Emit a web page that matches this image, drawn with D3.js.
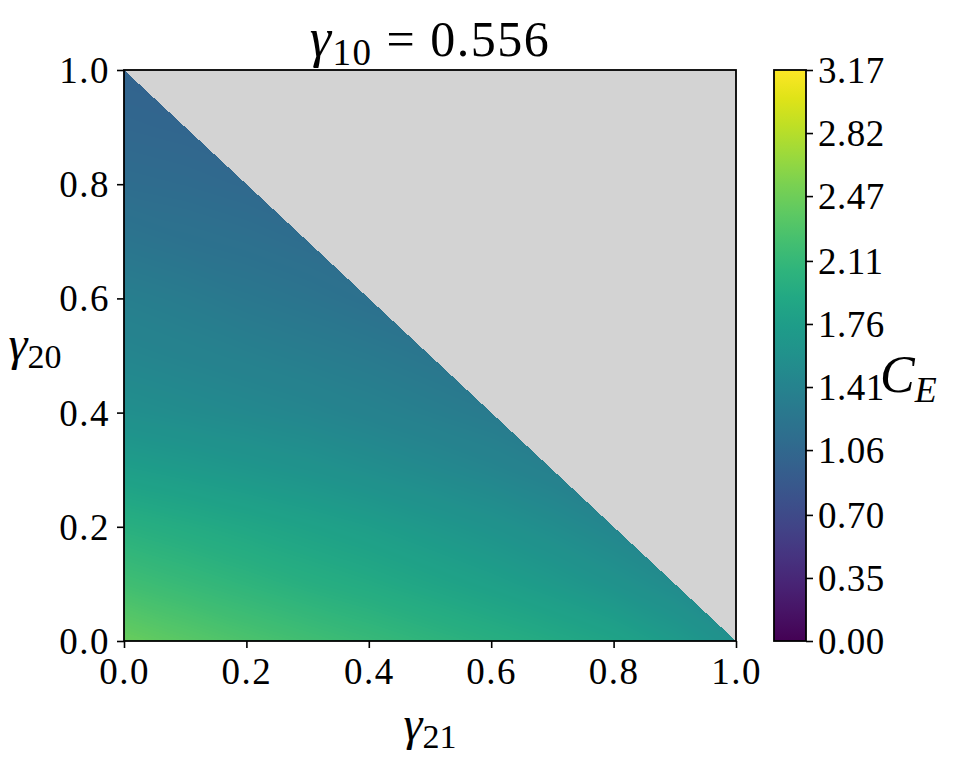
<!DOCTYPE html>
<html>
<head>
<meta charset="utf-8">
<script src="https://cdn.jsdelivr.net/npm/d3@7"></script>
<style>
body { margin: 0; background: #fff; }
text { font-family: "Liberation Serif", "DejaVu Serif", serif; fill: #000; }
</style>
</head>
<body>
<svg id="svg0" width="955" height="764"></svg>
<script>
var svg0 = d3.select('#svg0');

// grid step of the sampled field (gamma21 along columns, gamma20 along rows)
var grid_step = 0.1;
// C_E, row j = gamma20 = j*0.1, column i = gamma21 = i*0.1 (only gamma21+gamma20<=1)
var row_00 = [2.44, 2.35, 2.27, 2.20, 2.13, 2.06, 1.99, 1.92, 1.84, 1.72, 1.58];
var row_01 = [2.20, 2.13, 2.06, 1.99, 1.93, 1.86, 1.79, 1.71, 1.62, 1.52];
var row_02 = [2.00, 1.94, 1.88, 1.82, 1.76, 1.69, 1.62, 1.54, 1.45];
var row_03 = [1.77, 1.72, 1.67, 1.62, 1.56, 1.50, 1.44, 1.37];
var row_04 = [1.57, 1.53, 1.49, 1.45, 1.40, 1.35, 1.30];
var row_05 = [1.45, 1.41, 1.37, 1.33, 1.29, 1.24];
var row_06 = [1.35, 1.31, 1.26, 1.22, 1.17];
var row_07 = [1.23, 1.19, 1.16, 1.12];
var row_08 = [1.12, 1.10, 1.07];
var row_09 = [1.05, 1.03];
var row_10 = [1.00];
var ce_rows = [row_00, row_01, row_02, row_03, row_04, row_05, row_06, row_07, row_08, row_09, row_10];

var x_ticks = [0.0, 0.2, 0.4, 0.6, 0.8, 1.0];
var y_ticks = [0.0, 0.2, 0.4, 0.6, 0.8, 1.0];
var cbar_ticks = [0.00, 0.35, 0.70, 1.06, 1.41, 1.76, 2.11, 2.47, 2.82, 3.17];
var c_min = 0, c_max = 3.17;

var plot_left = 124, plot_right = 736, plot_top = 70, plot_bottom = 641;
var cb_left = 774, cb_right = 806;

var x = d3.scaleLinear().domain([0, 1]).range([plot_left, plot_right]);
var y = d3.scaleLinear().domain([0, 1]).range([plot_bottom, plot_top]);
var color = d3.scaleSequential(d3.interpolateViridis).domain([c_min, c_max]);
var w = plot_right-plot_left, h = plot_bottom-plot_top;

// grey background for the masked region
svg0.append('rect').attr('x', plot_left).attr('y', plot_top).attr('width', w).attr('height', h).attr('fill', '#d3d3d3');

// value at a point, linear inside the triangles of the sample grid
function ce_at(gx, gy) {
	var u = gx/grid_step, v = gy/grid_step;
	var i = Math.min(Math.floor(u), 9), j = Math.min(Math.floor(v), 9);
	var fu = u-i, fv = v-j;
	var z = (a, b) => { var r = ce_rows[b]; if(!r) return null; var val = r[a]; return val === undefined ? null : val; };
	var z00 = z(i, j), z10 = z(i+1, j), z01 = z(i, j+1), z11 = z(i+1, j+1);
	if(fu+fv <= 1) {
		if(z00 === null) return null;
		if(z10 === null) z10 = z00;
		if(z01 === null) z01 = z00;
		return z00*(1-fu-fv) + z10*fu + z01*fv;
	}
	if(z11 === null || z10 === null || z01 === null) return null;
	return z11*(fu+fv-1) + z10*(1-fv) + z01*(1-fu);
}

var canvas = document.createElement('canvas');
canvas.width = w; canvas.height = h;
var ctx = canvas.getContext('2d');
var img = ctx.createImageData(w, h);
for(var py = 0; py < h; py++) {
	for(var px = 0; px < w; px++) {
		var gx = x.invert(plot_left+px+0.5), gy = y.invert(plot_top+py+0.5);
		if(gx+gy > 1) continue;
		var val = ce_at(Math.max(gx, 0), Math.max(gy, 0));
		if(val === null) continue;
		var c = d3.rgb(color(val));
		var k = 4*(py*w+px);
		img.data[k] = c.r; img.data[k+1] = c.g; img.data[k+2] = c.b; img.data[k+3] = 255;
	}
}
ctx.putImageData(img, 0, 0);
svg0.append('image').attr('x', plot_left).attr('y', plot_top).attr('width', w).attr('height', h)
	.attr('href', canvas.toDataURL());

// frame
svg0.append('rect').attr('x', plot_left).attr('y', plot_top).attr('width', w).attr('height', h)
	.attr('fill', 'none').attr('stroke', '#000').attr('stroke-width', 1.8);

// axes
var x_axis = svg0.append('g').attr('transform', 'translate(0,'+plot_bottom+')')
	.call(d3.axisBottom(x).tickValues(x_ticks).tickFormat(d3.format('.1f')).tickSize(7).tickPadding(6));
var y_axis = svg0.append('g').attr('transform', 'translate('+plot_left+',0)')
	.call(d3.axisLeft(y).tickValues(y_ticks).tickFormat(d3.format('.1f')).tickSize(7).tickPadding(7));
[x_axis, y_axis].forEach(g => {
	g.select('.domain').remove();
	g.selectAll('line').attr('stroke', '#000').attr('stroke-width', 1.6);
	g.selectAll('text').attr('font-size', 37).attr('letter-spacing', 1.5).attr('font-family', '"Liberation Serif", serif').attr('fill', '#000');
});
x_axis.selectAll('text').attr('dy', '0.82em');
y_axis.selectAll('text').attr('dy', '0.34em');

// colorbar
var cb = d3.scaleLinear().domain([c_min, c_max]).range([plot_bottom, plot_top]);
var defs = svg0.append('defs');
var grad = defs.append('linearGradient').attr('id', 'cbgrad').attr('x1', 0).attr('y1', 1).attr('x2', 0).attr('y2', 0);
d3.range(0, 1.0001, 0.05).forEach(t => grad.append('stop').attr('offset', t).attr('stop-color', d3.interpolateViridis(t)));
svg0.append('rect').attr('x', cb_left).attr('y', plot_top).attr('width', cb_right-cb_left).attr('height', h)
	.attr('fill', 'url(#cbgrad)').attr('stroke', '#000').attr('stroke-width', 1.8);
var cb_axis = svg0.append('g').attr('transform', 'translate('+cb_right+',0)')
	.call(d3.axisRight(cb).tickValues(cbar_ticks).tickFormat(d3.format('.2f')).tickSize(7).tickPadding(5));
cb_axis.select('.domain').remove();
cb_axis.selectAll('line').attr('stroke', '#000').attr('stroke-width', 1.6);
cb_axis.selectAll('text').attr('font-size', 37).attr('letter-spacing', 0.5).attr('font-family', '"Liberation Serif", serif').attr('fill', '#000').attr('dy', '0.34em');

// labels
var title = svg0.append('text').attr('x', 430).attr('y', 56).attr('text-anchor', 'middle').attr('font-size', 50).attr('letter-spacing', 1.5);
title.append('tspan').attr('font-style', 'italic').attr('font-size', 54).text('γ');
title.append('tspan').attr('font-size', 37).attr('dy', 9).text('10');
title.append('tspan').attr('dy', -9).text(' = 0.556');

var xlab = svg0.append('text').attr('x', 430).attr('y', 740).attr('text-anchor', 'middle').attr('font-size', 48);
xlab.append('tspan').attr('font-style', 'italic').text('γ');
xlab.append('tspan').attr('font-size', 34).attr('dy', 8).text('21');

var ylab = svg0.append('text').attr('x', 35).attr('y', 360).attr('text-anchor', 'middle').attr('font-size', 48);
ylab.append('tspan').attr('font-style', 'italic').text('γ');
ylab.append('tspan').attr('font-size', 34).attr('dy', 8).text('20');

var clab = svg0.append('text').attr('x', 880).attr('y', 392).attr('font-size', 52);
clab.append('tspan').attr('font-style', 'italic').text('C');
clab.append('tspan').attr('font-style', 'italic').attr('font-size', 36).attr('dy', 10).text('E');
</script>
</body>
</html>
